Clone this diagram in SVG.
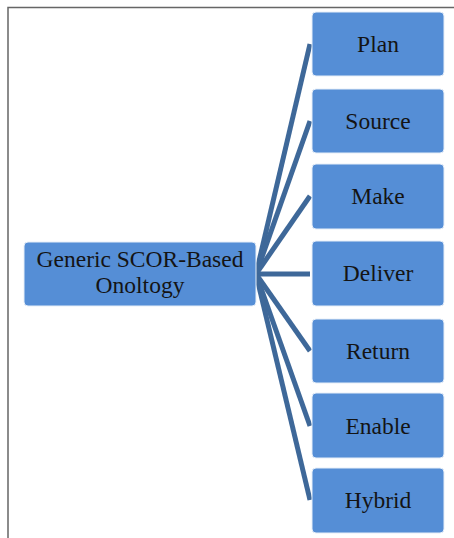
<svg xmlns="http://www.w3.org/2000/svg" width="454" height="538" viewBox="0 0 454 538">
<style>
.box{fill:#558ed6;stroke:#e6eef8;stroke-width:1}
.t{font-family:"Liberation Serif","Times New Roman",serif;font-size:23.5px;fill:#141414;text-anchor:middle}
.c{stroke:#3e6899;stroke-width:5;fill:none;stroke-linecap:butt}
.frame{stroke:#666;stroke-width:1.5;fill:none}
</style>
<rect width="454" height="538" fill="#fff"/>
<path class="frame" d="M8,538 V7.5 H454"/>
<g id="connectors">
<line class="c" x1="256" y1="274" x2="310" y2="44"/>
<line class="c" x1="256" y1="274" x2="310" y2="121"/>
<line class="c" x1="256" y1="274" x2="310" y2="196"/>
<line class="c" x1="256" y1="274" x2="310" y2="274"/>
<line class="c" x1="256" y1="274" x2="310" y2="351"/>
<line class="c" x1="256" y1="274" x2="310" y2="426"/>
<line class="c" x1="256" y1="274" x2="310" y2="500"/>
</g>
<g id="root"><rect class="box" x="24" y="242" width="232" height="64" rx="4"/><text class="t" x="140" y="267">Generic SCOR-Based</text><text class="t" x="140" y="293">Onoltogy</text></g>
<g id="plan"><rect class="box" x="312" y="12" width="132" height="64" rx="4"/><text class="t" x="378" y="52">Plan</text></g>
<g id="source"><rect class="box" x="312" y="89" width="132" height="64" rx="4"/><text class="t" x="378" y="128.5">Source</text></g>
<g id="make"><rect class="box" x="312" y="164" width="132" height="65" rx="4"/><text class="t" x="378" y="203.5">Make</text></g>
<g id="deliver"><rect class="box" x="312" y="241" width="132" height="65" rx="4"/><text class="t" x="378" y="280.5">Deliver</text></g>
<g id="return"><rect class="box" x="312" y="319" width="132" height="64" rx="4"/><text class="t" x="378" y="359">Return</text></g>
<g id="enable"><rect class="box" x="312" y="393" width="132" height="65" rx="4"/><text class="t" x="378" y="433.5">Enable</text></g>
<g id="hybrid"><rect class="box" x="312" y="468" width="132" height="65" rx="4"/><text class="t" x="378" y="507.5">Hybrid</text></g>
</svg>
